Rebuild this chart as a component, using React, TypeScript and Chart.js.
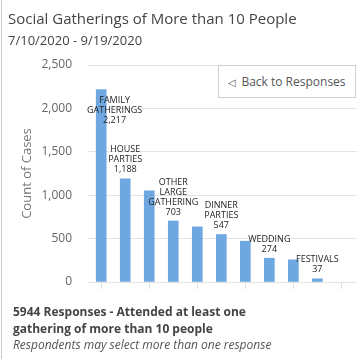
import React, { useEffect, useRef } from "react";
import { Chart, registerables } from "chart.js";

Chart.register(...registerables);

const categoryLabels: (string[] | null)[] = [
  ["FAMILY", "GATHERINGS"],
  ["HOUSE", "PARTIES"],
  null,
  ["OTHER", "LARGE", "GATHERING"],
  null,
  ["DINNER", "PARTIES"],
  null,
  ["WEDDING"],
  null,
  ["FESTIVALS"],
];
const caseCounts = [2217, 1188, 1050, 703, 635, 547, 470, 274, 255, 37];
const yTicks = [0, 500, 1000, 1500, 2000, 2500];
const xTicks = [0, 2, 4, 6, 8, 10];

const TEXT_FONT = "'Open Sans', 'Noto Sans', sans-serif";

const barLabelPlugin = {
  id: "barLabels",
  afterDatasetsDraw(chart: any) {
    const { ctx, chartArea } = chart;
    const meta = chart.getDatasetMeta(0);
    ctx.save();
    ctx.font = `9px ${TEXT_FONT}`;
    ctx.fillStyle = "#1e1e1e";
    ctx.textAlign = "center";
    ctx.textBaseline = "middle";
    const lh = 10;
    meta.data.forEach((bar: any, i: number) => {
      const name = categoryLabels[i];
      if (!name) return;
      const lines = [...name, caseCounts[i].toLocaleString("en-US")];
      const w = Math.max(...lines.map((l) => ctx.measureText(l).width));
      let cx = bar.x;
      if (cx - w / 2 < chartArea.left - 1) cx = chartArea.left - 1 + w / 2;
      if (cx + w / 2 > chartArea.right) cx = chartArea.right - w / 2;
      const h = lines.length * lh;
      let top = bar.y - 4 - h;
      if (top < chartArea.top) top = bar.y + 6;
      lines.forEach((l, k) => ctx.fillText(l, cx, top + lh / 2 + k * lh));
    });
    ctx.restore();
  },
};

export default function App() {
  const ref = useRef<HTMLCanvasElement>(null);
  useEffect(() => {
    const chart = new Chart(ref.current!, {
      type: "bar",
      data: {
        datasets: [
          {
            data: caseCounts.map((v, i) => ({ x: i, y: v })),
            backgroundColor: "#6fa8e0",
            barThickness: 10,
          },
        ],
      },
      options: {
        animation: false,
        responsive: false,
        maintainAspectRatio: false,
        layout: { padding: { top: 65, right: 5, bottom: 0, left: 8 } },
        plugins: { legend: { display: false }, tooltip: { enabled: false } },
        scales: {
          x: {
            type: "linear",
            min: -0.55,
            max: 10.65,
            offset: false,
            afterBuildTicks: (s: any) => {
              s.ticks = xTicks.map((v) => ({ value: v }));
            },
            afterFit: (s: any) => {
              s.height = 77;
            },
            ticks: { display: false },
            grid: {
              offset: false,
              drawOnChartArea: false,
              drawTicks: true,
              tickLength: 7,
              color: "#dcdcdc",
            },
            border: { display: false },
          },
          y: {
            min: 0,
            max: 2500,
            afterBuildTicks: (s: any) => {
              s.ticks = yTicks.map((v) => ({ value: v }));
            },
            afterFit: (s: any) => {
              s.width = 80;
            },
            ticks: {
              padding: 16,
              color: "#666",
              font: { family: TEXT_FONT, size: 12 },
              callback: (v: any) => Number(v).toLocaleString("en-US"),
            },
            grid: { color: "#e4e4e4", drawTicks: false },
            border: { display: false },
            title: {
              display: true,
              text: "Count of Cases",
              color: "#777",
              font: { family: TEXT_FONT, size: 13 },
              padding: { top: 11, bottom: 0 },
            },
          },
        },
      },
      plugins: [barLabelPlugin],
    });
    return () => chart.destroy();
  }, []);

  return (
    <div
      style={{
        position: "fixed",
        left: 0,
        top: 0,
        width: 362,
        height: 359,
        background: "#fff",
        fontFamily: TEXT_FONT,
        overflow: "hidden",
      }}
    >
      <div
        style={{
          position: "absolute",
          left: 1,
          top: 0,
          width: 1,
          height: 359,
          background: "#c8c8c8",
        }}
      />
      <canvas
        ref={ref}
        width={362}
        height={359}
        style={{ position: "absolute", left: 0, top: 0, width: 362, height: 359 }}
      />
      <div
        style={{
          position: "absolute",
          left: 8,
          top: 8,
          fontSize: 15,
          color: "#444",
          whiteSpace: "nowrap",
          lineHeight: "20px",
        }}
      >
        Social Gatherings of More than 10 People
      </div>
      <div
        style={{
          position: "absolute",
          left: 8,
          top: 31,
          fontSize: 13,
          color: "#444",
          whiteSpace: "nowrap",
          lineHeight: "18px",
        }}
      >
        7/10/2020 - 9/19/2020
      </div>
      <div
        style={{
          position: "absolute",
          left: 218,
          top: 65,
          width: 136,
          height: 31,
          border: "1px solid #cfcfcf",
          background: "#fff",
          color: "#555",
          fontSize: 12,
          display: "flex",
          alignItems: "center",
          justifyContent: "center",
          whiteSpace: "nowrap",
        }}
      >
        <span style={{ fontSize: 10, marginRight: 5 }}>◁</span>
        <span>Back to Responses</span>
      </div>
      <div
        style={{
          position: "absolute",
          left: 13,
          top: 304,
          fontSize: 12,
          lineHeight: "16.5px",
          color: "#444",
          whiteSpace: "nowrap",
        }}
      >
        <div style={{ fontWeight: 700 }}>5944 Responses - Attended at least one</div>
        <div style={{ fontWeight: 700 }}>gathering of more than 10 people</div>
        <div style={{ fontStyle: "italic", color: "#555" }}>
          Respondents may select more than one response
        </div>
      </div>
    </div>
  );
}
